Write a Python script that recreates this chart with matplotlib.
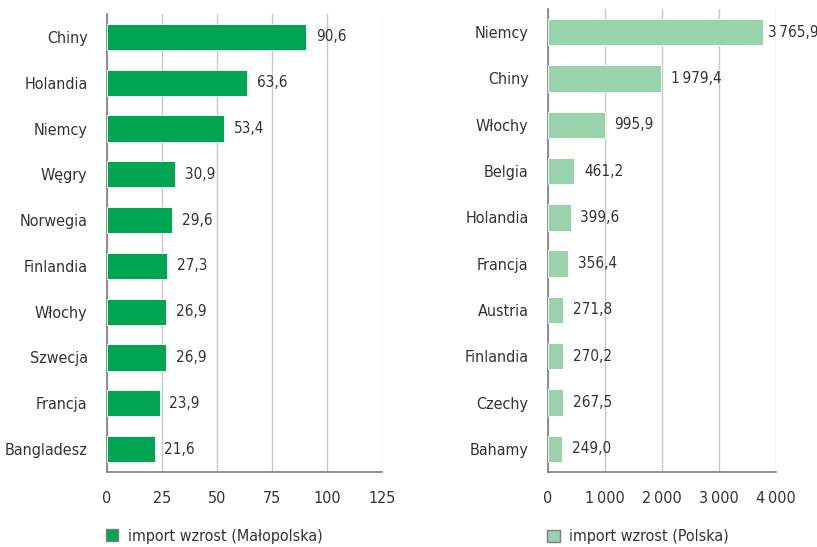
import matplotlib
matplotlib.use("Agg")
import matplotlib.pyplot as plt
from matplotlib.patches import Patch

plt.rcParams['font.family'] = ['DejaVu Sans']
plt.rcParams['font.stretch'] = 'condensed'

# left panel: Małopolska
kraje_mp = ['Chiny', 'Holandia', 'Niemcy', 'Węgry', 'Norwegia', 'Finlandia',
            'Włochy', 'Szwecja', 'Francja', 'Bangladesz']
wart_mp = [90.6, 63.6, 53.4, 30.9, 29.6, 27.3, 26.9, 26.9, 23.9, 21.6]

# right panel: Polska
kraje_pl = ['Niemcy', 'Chiny', 'Włochy', 'Belgia', 'Holandia', 'Francja',
            'Austria', 'Finlandia', 'Czechy', 'Bahamy']
wart_pl = [3765.9, 1979.4, 995.9, 461.2, 399.6, 356.4, 271.8, 270.2, 267.5, 249.0]

c_mp = '#00a551'
c_pl = '#99d3ab'
txt = '#333333'


def fmt(v):
    s = '{:,.1f}'.format(v)
    return s.replace(',', '\u2009').replace('.', ',')


def panel(ax, kraje, wart, kolor, xmax, ticks, ticklabels, legend_label):
    y = range(len(kraje))
    ax.barh(y, wart, height=0.57, color=kolor, edgecolor='white', linewidth=0.6, zorder=3)
    ax.set_ylim(len(kraje) - 0.5, -0.5)
    ax.set_xlim(0, xmax)
    ax.set_yticks(list(y))
    ax.set_yticklabels(kraje)
    ax.set_xticks(ticks)
    ax.set_xticklabels(ticklabels)
    ax.tick_params(axis='both', length=0, labelsize=11.5, colors=txt)
    ax.tick_params(axis='y', pad=14)
    ax.tick_params(axis='x', pad=14)
    ax.grid(axis='x', color='#c8c8c8', linewidth=1, zorder=0)
    for s in ['top', 'right']:
        ax.spines[s].set_visible(False)
    for s in ['left', 'bottom']:
        ax.spines[s].set_color('#7f7f7f')
        ax.spines[s].set_linewidth(1.2)
    for i, v in enumerate(wart):
        dx = 3.5 if v > 0.9 * xmax else 7
        ax.annotate(fmt(v), (v, i), xytext=(dx, 0), textcoords='offset points',
                    va='center', ha='left', fontsize=11, color=txt)
    ax.legend(handles=[Patch(facecolor=kolor, edgecolor='#7f7f7f', label=legend_label)],
              loc='center left', bbox_to_anchor=(-0.005, -0.14), frameon=False,
              fontsize=11.5, handlelength=0.8, handleheight=0.8, handletextpad=0.6,
              borderaxespad=0, borderpad=0, labelcolor=txt)


fig = plt.figure(figsize=(8.17, 5.47), dpi=100)
ax1 = fig.add_axes([107 / 817, 1 - 472 / 547, 275 / 817, 458 / 547])
ax2 = fig.add_axes([548 / 817, 1 - 472 / 547, 228 / 817, 463 / 547])

panel(ax1, kraje_mp, wart_mp, c_mp, 125, [0, 25, 50, 75, 100, 125],
      ['0', '25', '50', '75', '100', '125'], 'import wzrost (Małopolska)')
panel(ax2, kraje_pl, wart_pl, c_pl, 4000, [0, 1000, 2000, 3000, 4000],
      ['0', '1\u2009000', '2\u2009000', '3\u2009000', '4\u2009000'], 'import wzrost (Polska)')

fig.savefig('out.png', dpi=100)
